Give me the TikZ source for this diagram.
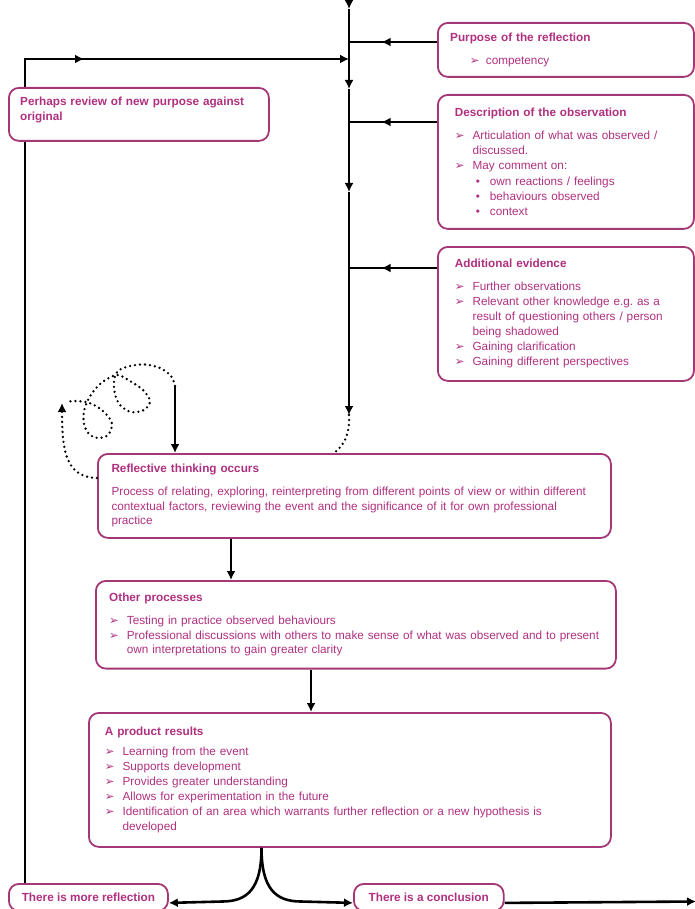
\documentclass[tikz,border=0pt]{standalone}
\usepackage{fontspec}
\setmainfont{Liberation Sans}
\newfontfamily\symfont{DejaVu Sans}
\usetikzlibrary{arrows.meta,decorations.markings,backgrounds}
\hyphenpenalty=10000
\exhyphenpenalty=10000
\frenchspacing

\definecolor{txt}{RGB}{176,48,128}
\definecolor{frame}{RGB}{164,56,118}

% list helpers
\newcommand{\bul}{{\symfont\fontsize{11.5}{11}\selectfont ➢}}
\newcommand{\aitem}[1]{\par\hangindent=17.7pt\hangafter=1\noindent\hbox to 17.7pt{\bul\hss}#1}
\newcommand{\sitem}[1]{\par\noindent\hspace*{21pt}\hbox to 14pt{•\hss}#1}
\newcommand{\btitle}[2]{\textbf{#1}\par\vspace{#2}}

\tikzset{
  box/.style={draw=frame, line width=1.8pt, rounded corners=10pt, fill=white,
    text=txt, align=left, anchor=north west, inner sep=0pt,
    font=\fontsize{11.75}{15.3}\selectfont},
  endbox/.style={box, align=center, inner xsep=12.9pt, inner ysep=0pt,
    minimum height=27pt, font=\fontsize{11.75}{14}\selectfont\bfseries},
  conn/.style={line width=2.6pt, black},
  dots/.style={line width=2.6pt, black, line cap=round, dash pattern=on 0pt off 5pt},
  midarrow/.style={postaction={decorate},
    decoration={markings, mark=at position #1 with {\arrow{>}}}},
  >={Latex[length=9pt,width=9pt]}
}

\begin{document}
\begin{tikzpicture}[x=1pt,y=-1pt]
\useasboundingbox (0,0) rectangle (694,909);

% ---- boxes ----
\node[box, minimum width=256pt, minimum height=54pt, text width=231.4pt] (purpose) at (437,22)
  {\btitle{Purpose of the reflection}{7.3pt}\noindent\hspace*{19.7pt}\hbox to 16pt{\bul\hss}competency\par};

\node[box, minimum width=256pt, minimum height=134pt, text width=222pt] (descr) at (437,94)
  {\btitle{Description of the observation}{7.3pt}%
   \aitem{Articulation of what was observed / discussed.}%
   \aitem{May comment on:}%
   \sitem{own reactions / feelings}%
   \sitem{behaviours observed}%
   \sitem{context}\par};

\node[box, minimum width=256pt, minimum height=134pt, text width=222pt,
      font=\fontsize{11.75}{15}\selectfont] (addev) at (437,246)
  {\btitle{Additional evidence}{8pt}%
   \aitem{Further observations}%
   \aitem{Relevant other knowledge e.g. as a result of questioning others / person being shadowed}%
   \aitem{Gaining clarification}%
   \aitem{Gaining different perspectives}\par};

\node[box, minimum width=513pt, minimum height=84pt, text width=485.8pt,
      font=\fontsize{11.75}{14.7}\selectfont] (reflect) at (97,453)
  {\rightskip=10pt plus 2em\relax
   \btitle{Reflective thinking occurs}{8pt}%
   Process of relating, exploring, reinterpreting from different points of view or within different contextual factors, reviewing the event and the significance of it for own professional practice\par};

\node[box, minimum width=520pt, minimum height=87.7pt, text width=493.4pt,
      font=\fontsize{11.75}{14.8}\selectfont] (other) at (95,580)
  {\btitle{Other processes}{7.9pt}%
   \aitem{Testing in practice observed behaviours}%
   \aitem{Professional discussions with others to make sense of what was observed and to present own interpretations to gain greater clarity}\par};

\node[box, minimum width=522pt, minimum height=134pt, text width=490pt,
      font=\fontsize{11.75}{15}\selectfont] (product) at (88,712)
  {\rightskip=10pt plus 2em\relax
   \btitle{A product results}{5.6pt}%
   \aitem{Learning from the event}%
   \aitem{Supports development}%
   \aitem{Provides greater understanding}%
   \aitem{Allows for experimentation in the future}%
   \aitem{Identification of an area which warrants further reflection or a new hypothesis is developed}\par};

\node[endbox] (morerefl) at (8,883) {There is more reflection};
\node[endbox, inner xsep=14.8pt] (concl) at (353,883) {There is a conclusion};

\node[box, minimum width=260pt, minimum height=53pt, text width=237.4pt,
      font=\fontsize{11.75}{15}\selectfont\bfseries] (review) at (8,87)
  {Perhaps review of new purpose against original\par\vspace{9pt}};

% ---- connectors ----
\coordinate (top) at (349,0);
\coordinate (m1) at (349,9);
\coordinate (m2) at (349,89);
\coordinate (m3) at (349,192);
\coordinate (mend) at (349,415);
\coordinate (corner) at (25,59);
\coordinate (sq) at (175,386);
\coordinate (upt) at (62,403);
\coordinate (split) at ([xshift=173.5pt]product.south west);
\coordinate (exitpt) at (696,901.5);

\begin{scope}[on background layer]
  % main spine
  \draw[conn,->] (top) -- (m1);
  \draw[conn,->] (m1) -- (m2);
  \draw[conn,->] (m2) -- (m3);
  \draw[conn,->] (m3) -- (mend);

  % inputs joining the spine
  \draw[conn, midarrow=0.63] ([yshift=-20pt]purpose.north west) -- ([yshift=-20pt]purpose.north west -| mend);
  \draw[conn, midarrow=0.63] ([yshift=-28pt]descr.north west) -- ([yshift=-28pt]descr.north west -| mend);
  \draw[conn, midarrow=0.63] ([yshift=-22pt]addev.north west) -- ([yshift=-22pt]addev.north west -| mend);

  % loop back from "more reflection"
  \draw[conn, ->, midarrow=883pt] ([xshift=17pt]morerefl.north west) -- (corner) -- (corner -| mend);
\end{scope}

% spine into reflective thinking
\draw[dots] (mend) .. controls (350,436) and (343,446) .. ([xshift=237pt]reflect.north west);

% wandering thoughts
\draw[conn,->] (sq) -- (sq |- reflect.north);
\draw[dots] plot[smooth, tension=0.55] coordinates {
  (175,386) (171,376) (160,368) (145,364.5) (130,366) (118,371) (114,381)
  (115,394) (120,405) (131,412) (144,410) (150,401) (143,390) (130,381)
  (118,375) (107,379) (97,387) (89,398) (84,411) (84,424) (89,434)
  (98,438) (108,435) (112,424) (106,414) (96,406) (86,402) (74,401) (66,402)};
\draw[dots,->] ([yshift=-25pt]reflect.north west) .. controls (66,477) and (62,452) .. (upt);

% flow downwards
\draw[conn,->] ([xshift=134pt]reflect.south west) -- ([xshift=134pt]reflect.south west |- other.north);
\draw[conn,->] ([xshift=216pt]other.south west) -- ([xshift=216pt]other.south west |- product.north);

% outcomes
\draw[conn,->] (split) .. controls (261.5,888) and (248,901.5) .. (222,901.5) -- ([yshift=-5.5pt]morerefl.east);
\draw[conn,->] (split) .. controls (261.5,888) and (275,901.5) .. (301,901.5) -- ([yshift=-5.5pt]concl.west);
\draw[conn,->] ([yshift=-5.5pt]concl.east) -- (exitpt);
\end{tikzpicture}
\end{document}
